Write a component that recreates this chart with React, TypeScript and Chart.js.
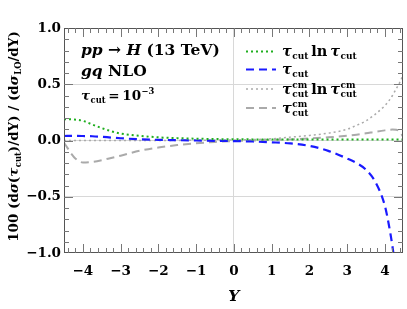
import React, { useEffect, useRef } from "react";
import { Chart, registerables } from "chart.js";

Chart.register(...registerables);

// ---- data ----
const yGridA = [-4.5, -4.25, -4.0, -3.75, -3.5, -3.25, -3.0, -2.5, -2.0, -1.5, -1.0, -0.5, 0, 0.5, 1.0, 1.5, 2.0, 2.5, 3.0, 3.25, 3.5, 3.75, 4.0, 4.1, 4.2, 4.3, 4.4, 4.48];
const tauLnTau = [0.19, 0.187, 0.175, 0.142, 0.11, 0.082, 0.062, 0.042, 0.028, 0.021, 0.016, 0.013, 0.011, 0.01, 0.01, 0.01, 0.01, 0.01, 0.01, 0.01, 0.01, 0.01, 0.01, 0.01, 0.01, 0.01, 0.01, 0.01];
const tauPow = [0.04, 0.041, 0.04, 0.038, 0.033, 0.026, 0.02, 0.011, 0.006, 0.003, 0.0, -0.003, -0.005, -0.009, -0.016, -0.026, -0.048, -0.092, -0.16, -0.2, -0.26, -0.37, -0.58, -0.74, -0.94, -1.2, -1.5, -1.8];
const tauCmLnTauCm = [0.0, 0.0, 0.0, 0.0, 0.0, 0.0, 0.0, 0.0, 0.0, 0.001, 0.002, 0.003, 0.005, 0.008, 0.015, 0.03, 0.045, 0.065, 0.1, 0.135, 0.175, 0.235, 0.31, 0.35, 0.4, 0.46, 0.52, 0.58];
const yGridB = [-4.5, -4.4, -4.3, -4.2, -4.0, -3.75, -3.5, -3.25, -3.0, -2.5, -2.0, -1.5, -1.0, -0.5, 0, 0.5, 1.0, 1.5, 2.0, 2.5, 3.0, 3.25, 3.5, 3.75, 4.0, 4.2, 4.3, 4.4, 4.48];
const tauCm = [-0.02, -0.07, -0.12, -0.16, -0.195, -0.19, -0.175, -0.155, -0.135, -0.092, -0.062, -0.041, -0.025, -0.013, -0.005, 0.0, 0.005, 0.01, 0.018, 0.028, 0.042, 0.052, 0.064, 0.078, 0.09, 0.097, 0.096, 0.075, 0.035];

const xTickValues = [-4, -3, -2, -1, 0, 1, 2, 3, 4];
const yTickValues = [-1.0, -0.5, 0.0, 0.5, 1.0];

const GREEN = "#1fae1f";
const BLUE = "#1a1aff";
const GRAY = "#aaaaaa";
const FAMILY = '"DejaVu Serif"';
const SUBR = 0.62;

type Seg = { t: string; it?: boolean; sub?: string; sup?: string };

function fnt(size: number, italic?: boolean) {
  return `${italic ? "italic " : ""}bold ${size}px ${FAMILY}`;
}

function richWidth(ctx: CanvasRenderingContext2D, segs: Seg[], size: number) {
  let w = 0;
  for (const s of segs) {
    ctx.font = fnt(size, s.it);
    w += ctx.measureText(s.t).width;
    if (s.sub || s.sup) {
      ctx.font = fnt(size * SUBR, false);
      const a = s.sub ? ctx.measureText(s.sub).width : 0;
      const b = s.sup ? ctx.measureText(s.sup).width : 0;
      w += Math.max(a, b) + 0.5;
    }
  }
  return w;
}

function drawRich(ctx: CanvasRenderingContext2D, segs: Seg[], x: number, y: number, size: number, align: "left" | "center" = "left") {
  const w = richWidth(ctx, segs, size);
  let cx = align === "center" ? x - w / 2 : x;
  ctx.textAlign = "left";
  ctx.textBaseline = "alphabetic";
  for (const s of segs) {
    ctx.font = fnt(size, s.it);
    ctx.fillText(s.t, cx, y);
    cx += ctx.measureText(s.t).width;
    if (s.sub || s.sup) {
      const small = size * SUBR;
      ctx.font = fnt(small, false);
      let a = 0, b = 0;
      if (s.sub) { ctx.fillText(s.sub, cx + 0.5, y + size * 0.24); a = ctx.measureText(s.sub).width; }
      if (s.sup) { ctx.fillText(s.sup, cx + 0.5, y - size * 0.42); b = ctx.measureText(s.sup).width; }
      cx += Math.max(a, b) + 0.5;
    }
  }
}

const decor = {
  id: "decor",
  afterDatasetsDraw(chart: any) {
    const { ctx, chartArea: a, scales } = chart;
    const xs = scales.x, ys = scales.y;
    ctx.save();
    // frame
    ctx.strokeStyle = "#555555";
    ctx.lineWidth = 1;
    ctx.strokeRect(a.left + 0.5, a.top + 0.5, a.right - a.left - 1, a.bottom - a.top - 1);
    // x ticks (inward, bottom and top)
    ctx.strokeStyle = "#777777";
    for (let i = -25; i <= 25; i++) {
      const v = i * 0.2;
      const px = Math.round(xs.getPixelForValue(v)) + 0.5;
      if (px <= a.left + 1 || px >= a.right - 1) continue;
      const major = i % 5 === 0;
      const L = major ? 9 : 5;
      ctx.beginPath();
      ctx.moveTo(px, a.bottom); ctx.lineTo(px, a.bottom - L);
      ctx.moveTo(px, a.top); ctx.lineTo(px, a.top + L);
      ctx.stroke();
    }
    for (let i = -10; i <= 10; i++) {
      const v = i * 0.1;
      const py = Math.round(ys.getPixelForValue(v)) + 0.5;
      if (py <= a.top + 1 || py >= a.bottom - 1) continue;
      const major = i % 5 === 0;
      const L = major ? 9 : 5;
      ctx.beginPath();
      ctx.moveTo(a.left, py); ctx.lineTo(a.left + L, py);
      ctx.moveTo(a.right, py); ctx.lineTo(a.right - L, py);
      ctx.stroke();
    }
    ctx.fillStyle = "#000000";
    // annotation (top left)
    drawRich(ctx, [{ t: "pp", it: true }, { t: " → " }, { t: "H", it: true }, { t: " (13 TeV)" }], 81, 55, 15.5);
    drawRich(ctx, [{ t: "gq", it: true }, { t: " NLO" }], 81, 76, 15.5);
    drawRich(ctx, [{ t: "τ", it: true, sub: "cut" }, { t: "\u2009=\u200910" }, { t: "", sup: "−3" }], 81, 100, 13.5);
    // legend
    const lx0 = 246, lx1 = 276, tx = 282;
    const rows: { y: number; color: string; dash: number[]; w: number; segs: Seg[]; base: number }[] = [
      { y: 51.5, color: GREEN, dash: [2, 3], w: 2, segs: [{ t: "τ", it: true, sub: "cut" }, { t: "\u2009ln\u2009" }, { t: "τ", it: true, sub: "cut" }], base: 56 },
      { y: 69.5, color: BLUE, dash: [8, 5], w: 2.2, segs: [{ t: "τ", it: true, sub: "cut" }], base: 74 },
      { y: 89, color: GRAY, dash: [2, 3], w: 1.5, segs: [{ t: "τ", it: true, sub: "cut", sup: "cm" }, { t: "\u2009ln\u2009" }, { t: "τ", it: true, sub: "cut", sup: "cm" }], base: 94 },
      { y: 108, color: GRAY, dash: [8, 5], w: 2, segs: [{ t: "τ", it: true, sub: "cut", sup: "cm" }], base: 113 },
    ];
    for (const r of rows) {
      ctx.save();
      ctx.strokeStyle = r.color;
      ctx.lineWidth = r.w;
      ctx.setLineDash(r.dash);
      ctx.beginPath();
      ctx.moveTo(lx0, r.y); ctx.lineTo(lx1, r.y);
      ctx.stroke();
      ctx.restore();
      ctx.fillStyle = "#000000";
      drawRich(ctx, r.segs, tx, r.base, 14.5);
    }
    // x title
    ctx.font = fnt(15.5, true);
    ctx.textAlign = "center";
    ctx.textBaseline = "alphabetic";
    ctx.fillText("Y", xs.getPixelForValue(0), 301);
    // y title
    ctx.save();
    ctx.translate(18, (a.top + a.bottom) / 2 - 4);
    ctx.rotate(-Math.PI / 2);
    drawRich(ctx, [
      { t: "100 (d" }, { t: "σ", it: true }, { t: "(" }, { t: "τ", it: true, sub: "cut" }, { t: ")/dY) / (d" },
      { t: "σ", it: true, sub: "LO" }, { t: "/dY)" },
    ], 0, 0, 13.5, "center");
    ctx.restore();
    ctx.restore();
  },
};

function fmt(v: number, digits: number) {
  const s = Math.abs(v).toFixed(digits);
  return v < -1e-9 ? "−" + s : s;
}

export default function App() {
  const ref = useRef<HTMLCanvasElement | null>(null);
  useEffect(() => {
    if (!ref.current) return;
    const mk = (xsA: number[], ys: number[]) => xsA.map((x, i) => ({ x, y: ys[i] }));
    const chart = new Chart(ref.current, {
      type: "line",
      data: {
        datasets: [
          { label: "tau ln tau", data: mk(yGridA, tauLnTau), borderColor: GREEN, borderWidth: 2, borderDash: [2, 3], pointRadius: 0, cubicInterpolationMode: "monotone", fill: false },
          { label: "tau", data: mk(yGridA, tauPow), borderColor: BLUE, borderWidth: 2.2, borderDash: [8, 5], pointRadius: 0, cubicInterpolationMode: "monotone", fill: false },
          { label: "taucm ln taucm", data: mk(yGridA, tauCmLnTauCm), borderColor: GRAY, borderWidth: 1.5, borderDash: [2, 3], pointRadius: 0, cubicInterpolationMode: "monotone", fill: false },
          { label: "taucm", data: mk(yGridB, tauCm), borderColor: GRAY, borderWidth: 2, borderDash: [8, 5], pointRadius: 0, cubicInterpolationMode: "monotone", fill: false },
        ],
      },
      options: {
        responsive: false,
        animation: false,
        events: [],
        layout: { padding: { left: 0, top: 28, right: 4, bottom: 0 } },
        plugins: { legend: { display: false }, tooltip: { enabled: false }, title: { display: false } },
        scales: {
          x: {
            type: "linear",
            min: -4.5,
            max: 4.48,
            afterFit: (s: any) => { s.height = 56; },
            afterBuildTicks: (s: any) => { s.ticks = xTickValues.map((v) => ({ value: v })); },
            border: { display: false },
            grid: {
              drawTicks: false,
              color: (c: any) => (c.tick && c.tick.value === 0 ? "#d8d8d8" : "rgba(0,0,0,0)"),
            },
            ticks: {
              padding: 10,
              color: "#000000",
              font: { family: "DejaVu Serif", weight: "bold", size: 13.5 },
              callback: (v: any) => fmt(Number(v), 0),
              maxRotation: 0,
            },
          },
          y: {
            type: "linear",
            min: -1,
            max: 1,
            afterFit: (s: any) => { s.width = 64; },
            afterBuildTicks: (s: any) => { s.ticks = yTickValues.map((v) => ({ value: v })); },
            border: { display: false },
            grid: {
              drawTicks: false,
              color: (c: any) => (c.tick && Math.abs(c.tick.value) < 0.9 ? "#d8d8d8" : "rgba(0,0,0,0)"),
            },
            ticks: {
              padding: 3,
              color: "#000000",
              font: { family: "DejaVu Serif", weight: "bold", size: 13.5 },
              callback: (v: any) => fmt(Number(v), 1),
            },
          },
        },
      },
      plugins: [decor],
    } as any);
    return () => chart.destroy();
  }, []);
  return (
    <div style={{ position: "fixed", left: 0, top: 0, width: 407, height: 309, background: "#ffffff" }}>
      <canvas ref={ref} width={407} height={309} style={{ display: "block" }} />
    </div>
  );
}
